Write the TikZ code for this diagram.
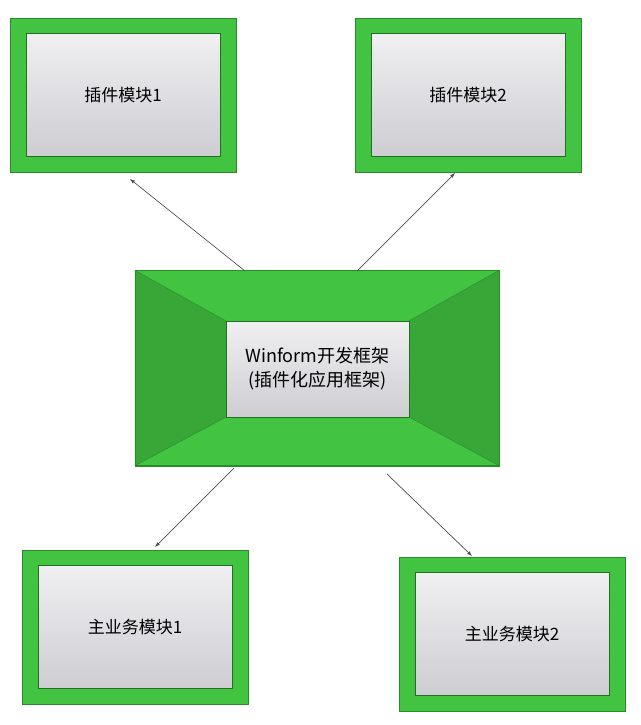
\documentclass[tikz,border=0pt]{standalone}
\usepackage{fontspec}
\setmainfont{Noto Sans CJK SC}
\usetikzlibrary{positioning}

\definecolor{frame}{RGB}{66,196,66}
\definecolor{frameline}{RGB}{40,140,40}
\definecolor{paper}{RGB}{240,240,242}
\definecolor{papershade}{RGB}{205,205,210}

\begin{document}
\begin{tikzpicture}[x=1pt,y=-1pt,>=latex,
  outer/.style={draw=frameline,fill=frame,minimum width=226pt,minimum height=154pt,inner sep=0pt},
  inner/.style={draw=frameline!80!black,top color=paper,bottom color=papershade,minimum width=194pt,minimum height=123pt,inner sep=0pt,font=\fontsize{17}{20}\selectfont},
  link/.style={->,draw=black!70,line width=0.7pt},]
    \useasboundingbox (0,0) rectangle (640,725);
    \node [outer] (O1) at (123,95)   {};
    \node [inner] (M1) at (O1)       {插件模块1};
    \node [outer] (O2) at (468,95)   {};
    \node [inner] (M2) at (O2)       {插件模块2};
    \node [outer] (O3) at (135,627)  {};
    \node [inner] (M3) at (O3)       {主业务模块1};
    \node [outer] (O4) at (512,634)  {};
    \node [inner] (M4) at (O4)       {主业务模块2};

    % framework bevel
    \node [draw=frameline,fill=frame,minimum width=364pt,minimum height=195pt,inner sep=0pt] (F) at (317,368) {};
    \coordinate (wnw) at (226,321);
    \coordinate (wne) at (409,321);
    \coordinate (wsw) at (226,417);
    \coordinate (wse) at (409,417);
    \fill [frame!85!black] (F.north west) -- (F.south west) -- (wsw) -- (wnw) -- cycle;
    \fill [frame!85!black] (F.north east) -- (F.south east) -- (wse) -- (wne) -- cycle;
    \node [inner,minimum width=183pt,minimum height=96pt,align=center,font=\fontsize{18}{24}\selectfont] (W) at (317.5,369) {Winform开发框架\\(插件化应用框架)};
    \draw [frameline] (F.north west) -- (W.north west) (F.north east) -- (W.north east)
      (F.south west) -- (W.south west) (F.south east) -- (W.south east);
    \draw [frameline] (F.north west) rectangle (F.south east);

    \coordinate (a1) at (245,271);
    \coordinate (a2) at (357,271);
    \coordinate (a3) at (234,468);
    \coordinate (a4) at (387,474);
    \coordinate (b1) at (130,179);
    \coordinate (b2) at (455,173);
    \coordinate (b3) at (155,547);
    \coordinate (b4) at (472,556);
    \draw [link] (a1) -- (b1);
    \draw [link] (a2) -- (b2);
    \draw [link] (a3) -- (b3);
    \draw [link] (a4) -- (b4);
\end{tikzpicture}
\end{document}
